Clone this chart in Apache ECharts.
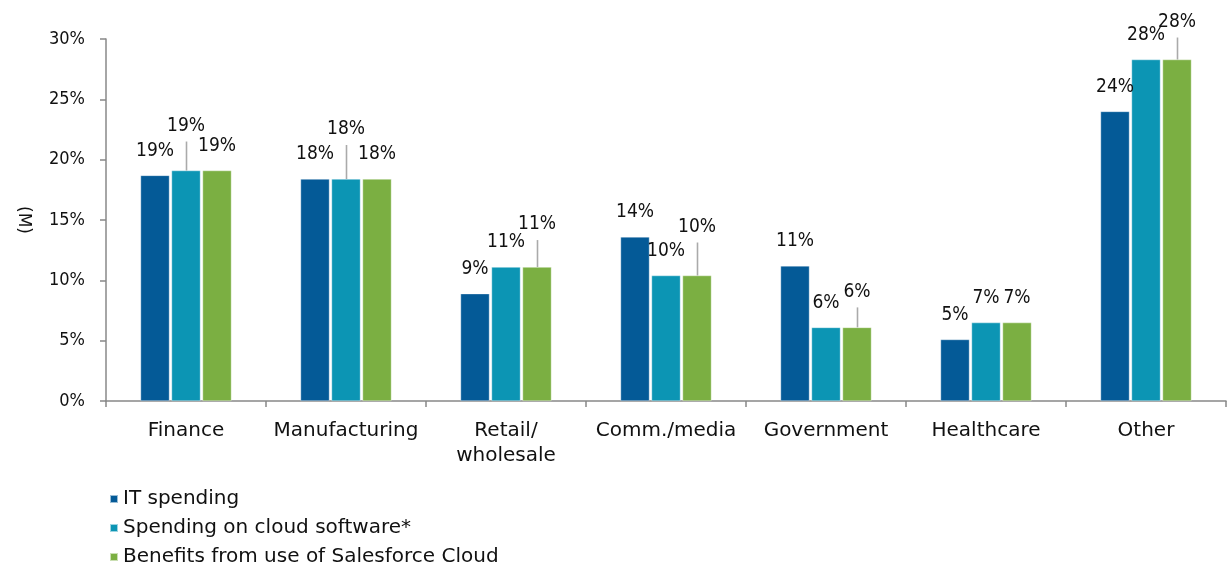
<!DOCTYPE html>
<html>
<head>
<meta charset="utf-8">
<script src="https://cdn.jsdelivr.net/npm/echarts@6/dist/echarts.min.js"></script>
<style>
html,body{margin:0;padding:0;background:#fff;}
#chart{width:1227px;height:573px;}
</style>
</head>
<body>
<div id="chart"></div>
<script>
// ---- data ----
var categories = ['Finance', 'Manufacturing', 'Retail/\nwholesale', 'Comm./media', 'Government', 'Healthcare', 'Other'];
var seriesNames = ['IT spending', 'Spending on cloud software*', 'Benefits from use of Salesforce Cloud'];
var itSpending = [18.7, 18.4, 8.9, 13.6, 11.2, 5.1, 24.0];
var cloudSpending = [19.1, 18.4, 11.1, 10.4, 6.1, 6.5, 28.3];
var salesforceBenefits = [19.1, 18.4, 11.1, 10.4, 6.1, 6.5, 28.3];
var yTicks = [0, 5, 10, 15, 20, 25, 30];

// label text as printed
var itLabels = ['19%', '18%', '9%', '14%', '11%', '5%', '24%'];
var cloudLabels = ['19%', '18%', '11%', '10%', '6%', '7%', '28%'];
var sfLabels = ['19%', '18%', '11%', '10%', '6%', '7%', '28%'];

// extra label lift (px) for labels with leader lines, per series / category
var itLift = [0, 0, 0, 0, 0, 0, 0];
var cloudLift = [20, 25, 0, 0, 0, 0, 0];
var sfLift = [0, 0, 18, 24, 11, 0, 13];

var colors = ['#045A97', '#0C95B4', '#7BAF42'];
var BAR_W = 29, GAP_PX = 2, LABEL_DIST = 15;
var NUM_FONT = '"DejaVu Sans Condensed", "DejaVu Sans", sans-serif';
var TXT_FONT = '"DejaVu Sans", sans-serif';

function makeData(vals, labels, lifts) {
  return vals.map(function (v, i) {
    return {
      value: v,
      label: { formatter: labels[i], offset: [0, -lifts[i]] }
    };
  });
}

function barSeries(idx, vals, labels, lifts) {
  return {
    name: seriesNames[idx],
    type: 'bar',
    barWidth: BAR_W,
    barGap: (GAP_PX / BAR_W * 100) + '%',
    itemStyle: { color: colors[idx], borderColor: 'rgba(255,255,255,0.6)', borderWidth: 0.6 },
    label: {
      show: true, position: 'top', distance: LABEL_DIST,
      fontFamily: NUM_FONT, fontSize: 19, color: '#111'
    },
    data: makeData(vals, labels, lifts),
    z: 2
  };
}

// leader lines
var leaderData = [];
[itLift, cloudLift, sfLift].forEach(function (lifts, s) {
  var vals = [itSpending, cloudSpending, salesforceBenefits][s];
  lifts.forEach(function (l, i) {
    if (l > 0) leaderData.push([i, vals[i], s, l]);
  });
});

var chart = echarts.init(document.getElementById('chart'), null, { renderer: 'canvas' });
chart.setOption({
  animation: false,
  textStyle: { fontFamily: TXT_FONT },
  grid: { left: 106, right: 1, top: 39, bottom: 172, containLabel: false },
  legend: {
    orient: 'vertical', left: 104, bottom: 1,
    itemWidth: 8, itemHeight: 8, itemGap: 9, icon: 'rect',
    textStyle: { fontFamily: TXT_FONT, fontSize: 20, color: '#111' },
    data: seriesNames
  },
  xAxis: {
    type: 'category',
    data: categories,
    axisLine: { lineStyle: { color: '#888', width: 1.5 } },
    axisTick: { show: true, length: 6, lineStyle: { color: '#888', width: 1.5 } },
    axisLabel: { fontFamily: TXT_FONT, fontSize: 20, color: '#111', margin: 17, lineHeight: 25, interval: 0 }
  },
  yAxis: {
    type: 'value', min: 0, max: 30, interval: 5,
    name: '(M)', nameLocation: 'middle', nameGap: 74, nameRotate: -90,
    nameTextStyle: { fontFamily: TXT_FONT, fontSize: 17, color: '#111' },
    axisLine: { show: true, lineStyle: { color: '#888', width: 1.5 } },
    axisTick: { show: true, length: 6, inside: false, lineStyle: { color: '#888', width: 1.5 } },
    splitLine: { show: false },
    axisLabel: {
      fontFamily: NUM_FONT, fontSize: 18, color: '#111', margin: 21,
      formatter: function (v) { return yTicks.indexOf(v) >= 0 ? v + '%' : ''; }
    }
  },
  series: [
    barSeries(0, itSpending, itLabels, itLift),
    barSeries(1, cloudSpending, cloudLabels, cloudLift),
    barSeries(2, salesforceBenefits, sfLabels, sfLift),
    {
      type: 'custom',
      name: 'leaders',
      silent: true,
      z: 3,
      data: leaderData,
      encode: { x: 0, y: 1 },
      renderItem: function (params, api) {
        var p = api.coord([api.value(0), api.value(1)]);
        var s = api.value(2);
        var lift = api.value(3);
        var dx = (s - 1) * (BAR_W + GAP_PX);
        var x = Math.round(p[0] + dx) + 0.5;
        return {
          type: 'line',
          shape: { x1: x, y1: p[1], x2: x, y2: p[1] - lift - 9 },
          style: { stroke: '#aaa', lineWidth: 1.6 }
        };
      }
    }
  ]
});
</script>
</body>
</html>
